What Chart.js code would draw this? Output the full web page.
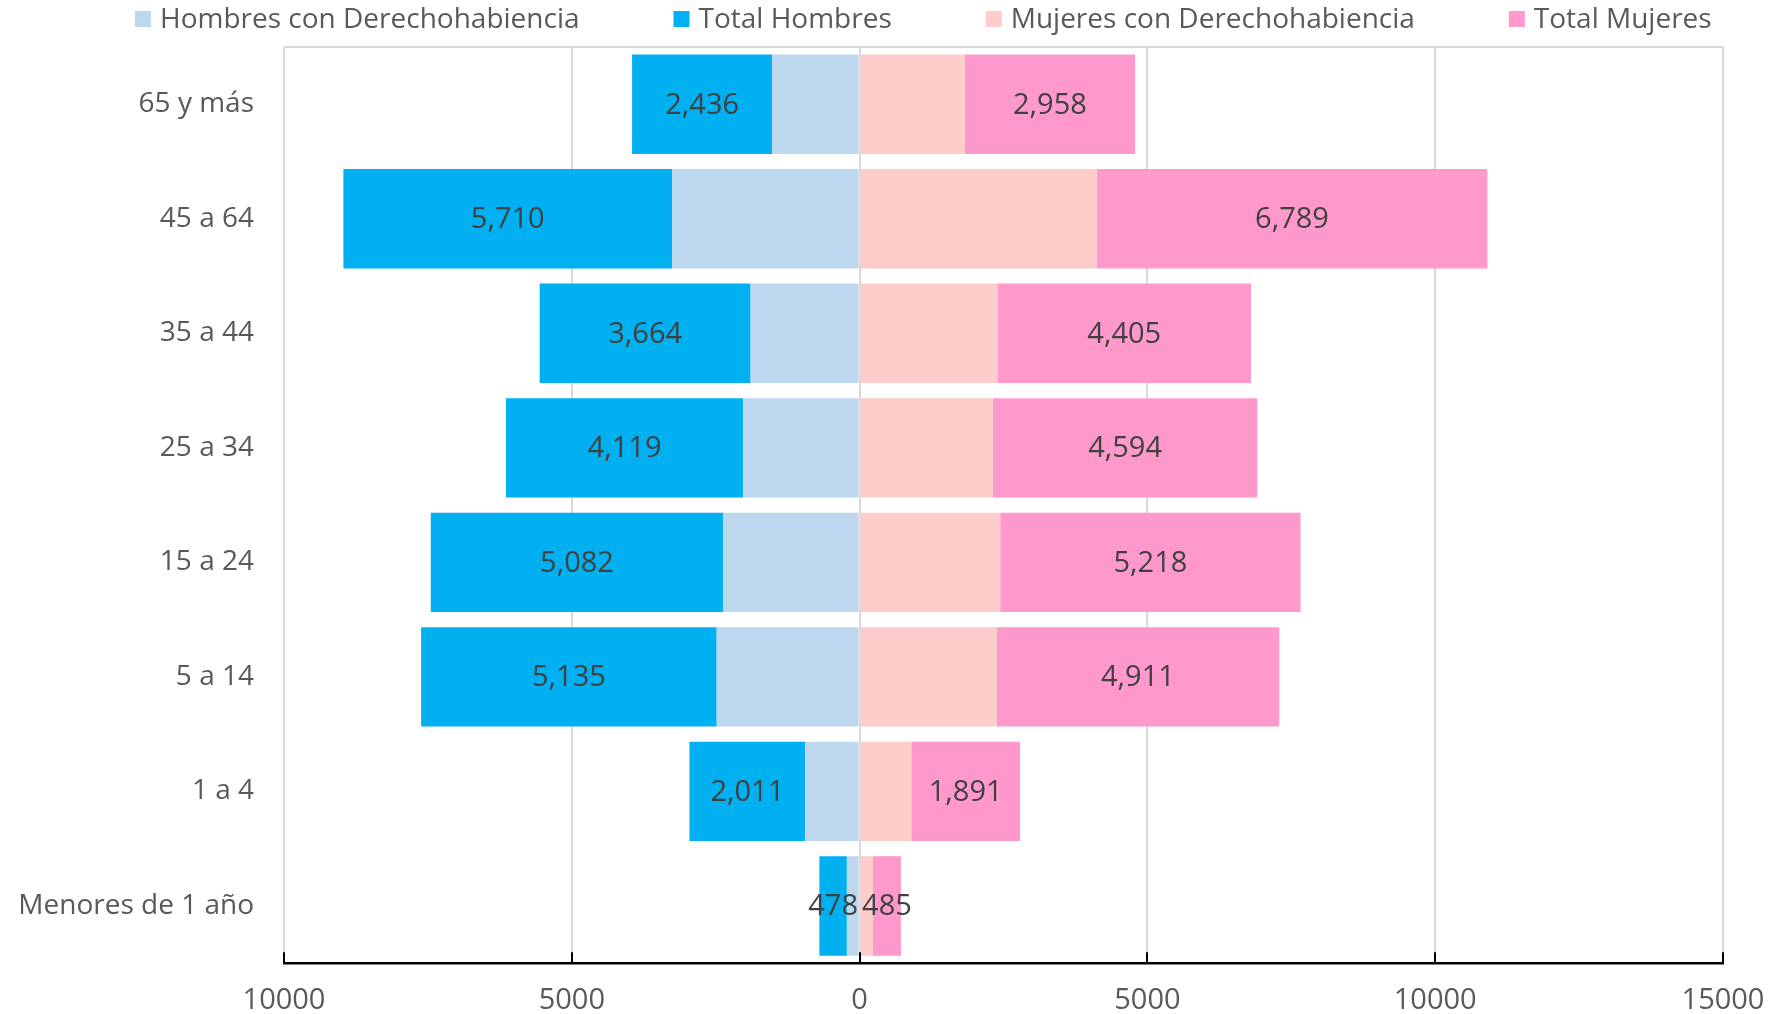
<!DOCTYPE html>
<html>
<head>
<meta charset="utf-8">
<script src="https://cdn.jsdelivr.net/npm/chart.js@4.4.0/dist/chart.umd.min.js"></script>
<style>
  html, body { margin: 0; padding: 0; background: #fff; }
  #wrap { width: 1773px; height: 1014px; }
</style>
</head>
<body>
<div id="wrap"><canvas id="piramide" width="1773" height="1014"></canvas></div>
<script>
// ---------- datos ----------
const grupos = ["65 y más", "45 a 64", "35 a 44", "25 a 34", "15 a 24", "5 a 14", "1 a 4", "Menores de 1 año"];

const hombresDer = [1517, 3258, 1894, 2024, 2368, 2483, 945, 221];
const totalHombres = [2436, 5710, 3664, 4119, 5082, 5135, 2011, 478];
const mujeresDer = [1828, 4118, 2395, 2315, 2443, 2380, 897, 233];
const totalMujeres = [2958, 6789, 4405, 4594, 5218, 4911, 1891, 485];

const ejeMin = -10000;
const ejeMax = 15000;
const ejePaso = 5000;

const FUENTE = "'Open Sans', 'DejaVu Sans', sans-serif";
const GRIS_TEXTO = "#595959";

// ---------- etiquetas de valores ----------
const etiquetasValores = {
  id: "etiquetasValores",
  afterDatasetsDraw(chart) {
    const ctx = chart.ctx;
    ctx.save();
    ctx.font = "29px " + FUENTE;
    ctx.fillStyle = "#404040";
    ctx.textAlign = "center";
    ctx.textBaseline = "middle";
    [1, 3].forEach(i => {
      const meta = chart.getDatasetMeta(i);
      meta.data.forEach((bar, j) => {
        const v = Math.abs(chart.data.datasets[i].data[j]);
        ctx.fillText(v.toLocaleString("en-US"), (bar.x + bar.base) / 2, bar.y + 1);
      });
    });
    ctx.restore();
  }
};

// ---------- marco, marcas del eje y leyenda ----------
const marcoYLeyenda = {
  id: "marcoYLeyenda",
  beforeDatasetsDraw(chart) {
    const { ctx, chartArea } = chart;
    ctx.save();
    ctx.strokeStyle = "#d9d9d9";
    ctx.lineWidth = 2;
    ctx.beginPath();
    ctx.moveTo(chartArea.left, chartArea.top);
    ctx.lineTo(chartArea.right, chartArea.top);
    ctx.stroke();
    ctx.restore();
  },
  afterDraw(chart) {
    const { ctx, chartArea } = chart;
    const x = chart.scales.x;
    ctx.save();
    // marcas hacia adentro
    ctx.strokeStyle = "#000";
    ctx.lineWidth = 2;
    x.ticks.forEach(t => {
      const px = Math.round(x.getPixelForValue(t.value));
      ctx.beginPath();
      ctx.moveTo(px, chartArea.bottom);
      ctx.lineTo(px, chartArea.bottom - 11);
      ctx.stroke();
    });
    // leyenda
    ctx.font = "28px " + FUENTE;
    ctx.textBaseline = "middle";
    ctx.textAlign = "left";
    let cx = 135;
    const cy = 19;
    chart.data.datasets.forEach(ds => {
      ctx.fillStyle = ds.backgroundColor;
      ctx.fillRect(cx, cy - 8, 16, 16);
      ctx.fillStyle = GRIS_TEXTO;
      ctx.fillText(ds.label, cx + 25, cy + 1);
      cx += 25 + ctx.measureText(ds.label).width + 94;
    });
    ctx.restore();
  }
};

// ---------- gráfica ----------
new Chart(document.getElementById("piramide"), {
  type: "bar",
  data: {
    labels: grupos,
    datasets: [
      { label: "Hombres con Derechohabiencia", data: hombresDer.map(v => -v), backgroundColor: "#BDD7EE" },
      { label: "Total Hombres", data: totalHombres.map(v => -v), backgroundColor: "#00B0F0" },
      { label: "Mujeres con Derechohabiencia", data: mujeresDer, backgroundColor: "#FFCCCC" },
      { label: "Total Mujeres", data: totalMujeres, backgroundColor: "#FF99CC" }
    ]
  },
  options: {
    indexAxis: "y",
    responsive: false,
    animation: false,
    layout: { padding: { top: 47, right: 50, bottom: 0, left: 0 } },
    datasets: { bar: { categoryPercentage: 1, barPercentage: 0.868, borderWidth: 0 } },
    plugins: {
      legend: { display: false },
      tooltip: { enabled: false }
    },
    scales: {
      x: {
        stacked: true,
        min: ejeMin,
        max: ejeMax,
        afterFit(scale) { scale.height -= 4; },
        ticks: {
          stepSize: ejePaso,
          padding: 0,
          color: GRIS_TEXTO,
          font: { family: FUENTE, size: 29 },
          callback: v => String(Math.abs(v))
        },
        grid: { color: "#d9d9d9", lineWidth: 2, drawTicks: true, tickLength: 20, tickColor: "rgba(0,0,0,0)" },
        border: { display: true, color: "#000", width: 2.5 }
      },
      y: {
        stacked: true,
        afterFit(scale) { scale.width = 284; },
        ticks: {
          padding: 30,
          color: GRIS_TEXTO,
          font: { family: FUENTE, size: 28 }
        },
        grid: { display: false, drawTicks: false },
        border: { display: false }
      }
    }
  },
  plugins: [etiquetasValores, marcoYLeyenda]
});
</script>
</body>
</html>
